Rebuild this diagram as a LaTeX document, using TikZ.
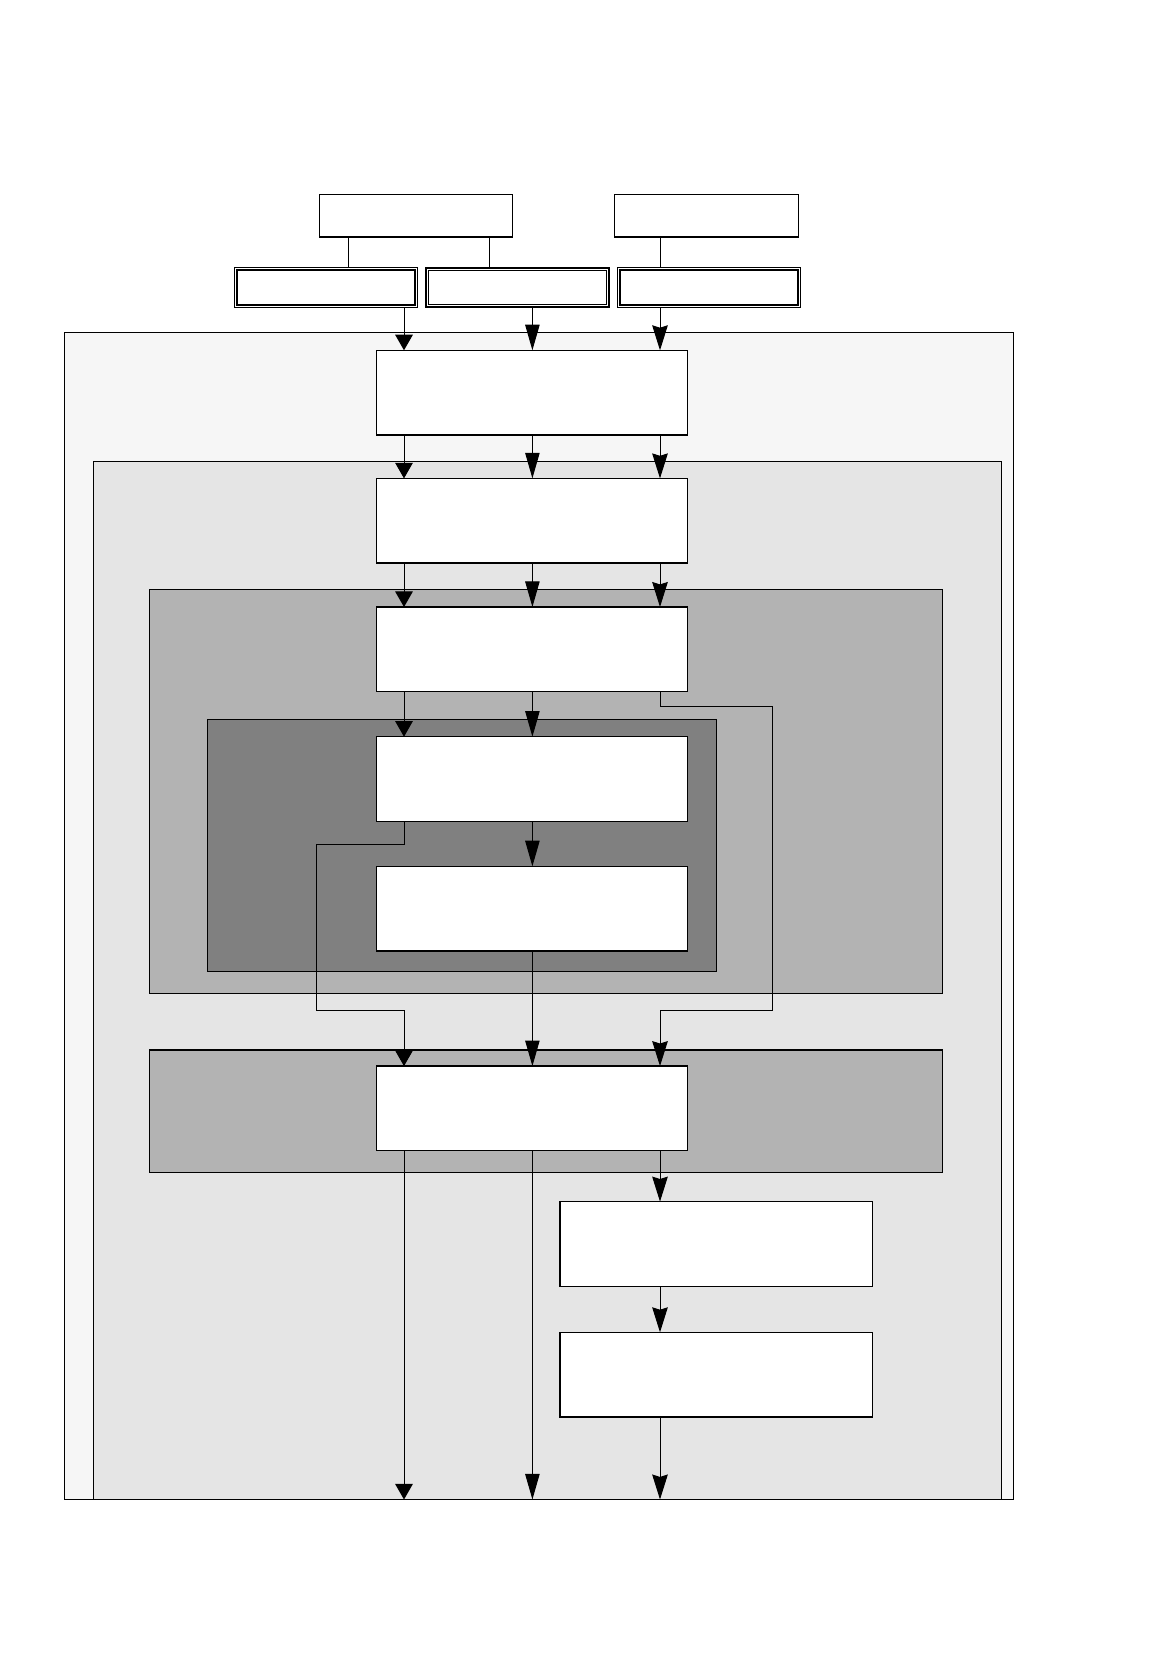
\documentclass[tikz,border=0pt]{standalone}
\usetikzlibrary{arrows.meta}
\definecolor{fzero}{HTML}{F6F6F6}
\definecolor{fone}{HTML}{E5E5E5}
\definecolor{ftwo}{HTML}{B3B3B3}
\definecolor{fthree}{HTML}{808080}
\tikzset{
  wbox/.style={draw=black, fill=white, line width=0.65pt, rectangle, inner sep=0pt, outer sep=0pt},
  bigbox/.style={wbox, minimum width=155.7pt, minimum height=42.3pt},
  topbox/.style={wbox, minimum height=21.2pt},
  dbl/.style={draw=black, fill=white, line width=0.5pt, rectangle, inner sep=0pt, outer sep=0pt, minimum width=91.4pt, minimum height=19.7pt},
  frame/.style={draw=black, line width=0.55pt},
  conn/.style={line width=0.5pt},
  arrL/.style={conn, -{Triangle[length=7.8pt,width=8.8pt]}},
  arrM/.style={conn, -{Triangle[length=12.8pt,width=7.2pt]}},
  arrR/.style={conn, -{Stealth[length=12.5pt,width=7.8pt,inset=1.2pt]}},
}
\begin{document}
\begin{tikzpicture}[x=0.5pt,y=-0.5pt]
\fill[white] (0,0) rectangle (1170,1666);
\useasboundingbox (0,0) rectangle (1170,1666);

% containers
\draw[frame, fill=fzero] (64.8,332.6) rectangle (1013.8,1499.5);
\draw[frame, fill=fone] (93.5,461.2) rectangle (1001.1,1499.5);
\draw[frame, fill=ftwo] (149.8,589.8) rectangle (942.6,993.6);
\draw[frame, fill=fthree] (207.2,719.4) rectangle (716.3,971.3);
\draw[frame, fill=ftwo] (149.8,1050.0) rectangle (942.6,1172.2);

% column coordinates
\coordinate (cL) at (404,0);
\coordinate (cM) at (532.4,0);
\coordinate (cR) at (660,0);
\coordinate (cTa) at (348.6,0);
\coordinate (cTb) at (489.9,0);

% top boxes
\node[topbox, minimum width=96.2pt] (t1) at (416.0,215.75) {};
\node[topbox, minimum width=92.0pt] (t2) at (706.2,215.75) {};

% double-line boxes
\node[dbl] (d1) at (326.2,287.5) {};
\node[dbl, line width=1.1pt] (d2) at (517.5,287.5) {};
\node[dbl] (d3) at (708.8,287.5) {};
\draw[line width=1.1pt] ([shift={(2.3,2.3)}]d1.north west) rectangle ([shift={(-2.3,-2.3)}]d1.south east);
\draw[line width=0.5pt] ([shift={(2.6,2.6)}]d2.north west) rectangle ([shift={(-2.6,-2.6)}]d2.south east);
\draw[line width=1.1pt] ([shift={(2.3,2.3)}]d3.north west) rectangle ([shift={(-2.3,-2.3)}]d3.south east);

% main boxes
\node[bigbox] (b1) at (531.9,392.6) {};
\node[bigbox] (b2) at (531.9,520.7) {};
\node[bigbox] (b3) at (531.9,649.3) {};
\node[bigbox] (b4) at (531.9,779.0) {};
\node[bigbox] (b5) at (531.9,908.6) {};
\node[bigbox] (b6) at (531.9,1108.4) {};
\node[bigbox, minimum width=156.2pt] (b7) at (716.2,1243.9) {};
\node[bigbox, minimum width=156.2pt] (b8) at (716.2,1374.6) {};

% route and end coordinates
\coordinate (rr1) at (772.6,706.7);
\coordinate (rr2) at (772.6,1010.6);
\coordinate (ll1) at (316.7,844.8);
\coordinate (ll2) at (316.7,1010.6);
\coordinate (eL) at (404,1499.5);
\coordinate (eM) at (532.4,1499.5);
\coordinate (eR) at (660,1499.5);

% connectors top
\draw[conn] (t1.south -| cTa) -- (d1.north -| cTa);
\draw[conn] (t1.south -| cTb) -- (d2.north -| cTb);
\draw[conn] (t2.south -| cR) -- (d3.north -| cR);

\draw[arrL] (d1.south -| cL) -- (b1.north -| cL);
\draw[arrM] (d2.south -| cM) -- (b1.north -| cM);
\draw[arrR] (d3.south -| cR) -- (b1.north -| cR);

\draw[arrL] (b1.south -| cL) -- (b2.north -| cL);
\draw[arrM] (b1.south -| cM) -- (b2.north -| cM);
\draw[arrR] (b1.south -| cR) -- (b2.north -| cR);

\draw[arrL] (b2.south -| cL) -- (b3.north -| cL);
\draw[arrM] (b2.south -| cM) -- (b3.north -| cM);
\draw[arrR] (b2.south -| cR) -- (b3.north -| cR);

\draw[arrL] (b3.south -| cL) -- (b4.north -| cL);
\draw[arrM] (b3.south -| cM) -- (b4.north -| cM);
\draw[arrR] (b3.south -| cR) |- (rr1) -- (rr2) -| (b6.north -| cR);

\draw[arrM] (b4.south -| cM) -- (b5.north -| cM);
\draw[arrL] (b4.south -| cL) |- (ll1) -- (ll2) -| (b6.north -| cL);

\draw[arrM] (b5.south -| cM) -- (b6.north -| cM);

\draw[arrL] (b6.south -| cL) -- (eL);
\draw[arrM] (b6.south -| cM) -- (eM);
\draw[arrR] (b6.south -| cR) -- (b7.north -| cR);
\draw[arrR] (b7.south -| cR) -- (b8.north -| cR);
\draw[arrR] (b8.south -| cR) -- (eR);
\end{tikzpicture}
\end{document}
